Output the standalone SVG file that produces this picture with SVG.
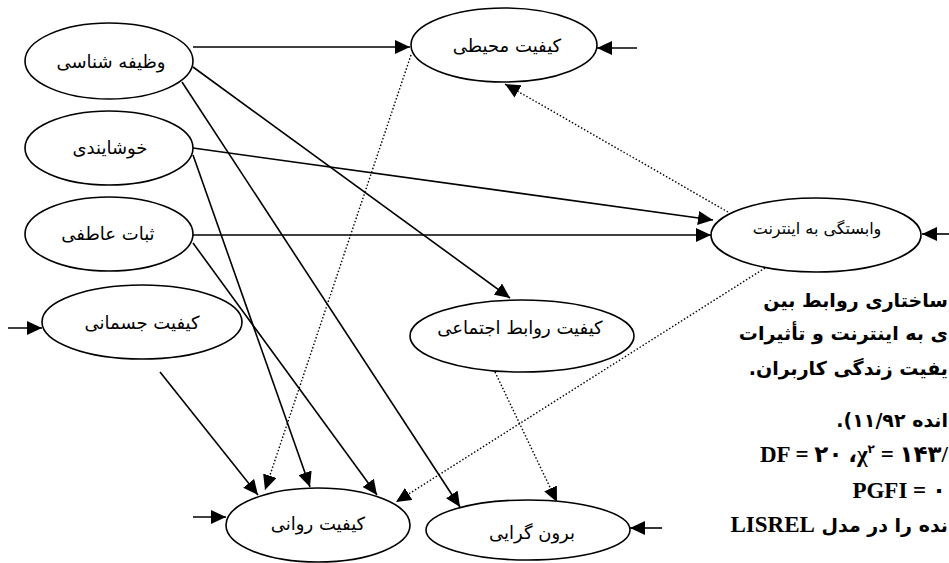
<svg xmlns="http://www.w3.org/2000/svg" width="949" height="563" viewBox="0 0 949 563">
<defs>
<marker id="ah" markerUnits="userSpaceOnUse" markerWidth="15" markerHeight="14" refX="15" refY="7" orient="auto">
<path d="M0,0 L15,7 L0,14 z" fill="#000"/>
</marker>
<style>
.node ellipse{fill:#fff;stroke:#000;stroke-width:1.6}
.lbl{font-family:"DejaVu Sans",sans-serif;font-size:18px;text-anchor:middle;fill:#000}
.sm{font-size:16px}
.edge{stroke:#000;stroke-width:1.6;fill:none;marker-end:url(#ah)}
.dot{stroke:#000;stroke-width:1.4;fill:none;stroke-dasharray:1.5 2;marker-end:url(#ah)}
.cap{font-family:"DejaVu Sans",sans-serif;font-weight:bold;font-size:19px;fill:#000}
.lat{font-family:"Liberation Serif","DejaVu Sans",serif;font-weight:bold;font-size:23px;fill:#000}
</style>
</defs>
<rect width="949" height="563" fill="#fff"/>
<g id="connectors">
<line class="edge" x1="193" y1="47" x2="410" y2="47"/>
<line class="edge" x1="193" y1="67" x2="510" y2="298"/>
<line class="edge" x1="182" y1="82" x2="460" y2="507"/>
<line class="edge" x1="193" y1="148" x2="713" y2="220"/>
<line class="edge" x1="193" y1="155" x2="310" y2="487"/>
<line class="edge" x1="193" y1="235" x2="711" y2="235"/>
<line class="edge" x1="193" y1="243" x2="377" y2="495"/>
<line class="edge" x1="160" y1="372" x2="258" y2="495"/>
<line class="dot" x1="411" y1="55" x2="265" y2="490"/>
<line class="dot" x1="728" y1="212" x2="505" y2="84"/>
<line class="dot" x1="765" y1="268" x2="396" y2="502"/>
<line class="dot" x1="495" y1="372" x2="557" y2="502"/>
<line class="edge" x1="637" y1="48" x2="597" y2="48"/>
<line class="edge" x1="952" y1="234" x2="922" y2="234"/>
<line class="edge" x1="8" y1="328" x2="42" y2="328"/>
<line class="edge" x1="193" y1="517" x2="226" y2="517"/>
<line class="edge" x1="662" y1="528" x2="630" y2="528"/>
</g>
<g id="n1" class="node"><ellipse cx="109" cy="61" rx="84" ry="38"/><text class="lbl" x="111" y="68">وظیفه شناسی</text></g>
<g id="n2" class="node"><ellipse cx="109" cy="148" rx="84" ry="37"/><text class="lbl" x="110" y="154">خوشایندی</text></g>
<g id="n3" class="node"><ellipse cx="109" cy="234" rx="84" ry="37"/><text class="lbl" x="108" y="240">ثبات عاطفی</text></g>
<g id="n4" class="node"><ellipse cx="142" cy="322" rx="100" ry="37"/><text class="lbl" x="142" y="329">کیفیت جسمانی</text></g>
<g id="n5" class="node"><ellipse cx="318" cy="525" rx="92" ry="37"/><text class="lbl" x="318" y="530">کیفیت روانی</text></g>
<g id="n6" class="node"><ellipse cx="528" cy="530" rx="102" ry="30"/><text class="lbl" x="532" y="539">برون گرایی</text></g>
<g id="n7" class="node"><ellipse cx="522" cy="336" rx="112" ry="36"/><text class="lbl" x="520" y="334">کیفیت روابط اجتماعی</text></g>
<g id="n8" class="node"><ellipse cx="504" cy="45" rx="93" ry="37"/><text class="lbl" x="507" y="52">کیفیت محیطی</text></g>
<g id="n9" class="node"><ellipse cx="816" cy="235" rx="105" ry="37"/><text class="lbl sm" x="817" y="234">وابستگی به اینترنت</text></g>
<g id="caption">
<text class="cap" x="948" y="307" direction="rtl" text-anchor="start">ساختاری روابط بین</text>
<text class="cap" x="948" y="340" direction="rtl" text-anchor="start">ی به اینترنت و تأثیرات</text>
<text class="cap" x="948" y="375" direction="rtl" text-anchor="start">یفیت زندگی کاربران.</text>
<text class="cap" x="948" y="427" direction="rtl" text-anchor="start">انده ۱۱/۹۲).</text>
<text class="lat" x="948" y="462" text-anchor="end">DF = ۲۰ ،χ<tspan font-size="12" dy="-9">۲</tspan><tspan dy="9"> = ۱۴۳/</tspan></text>
<text class="lat" x="946" y="498" text-anchor="end">PGFI = ۰</text>
<text class="cap" x="948" y="532" direction="rtl" text-anchor="start">نده را در مدل <tspan class="lat">LISREL</tspan></text>
</g>
</svg>
